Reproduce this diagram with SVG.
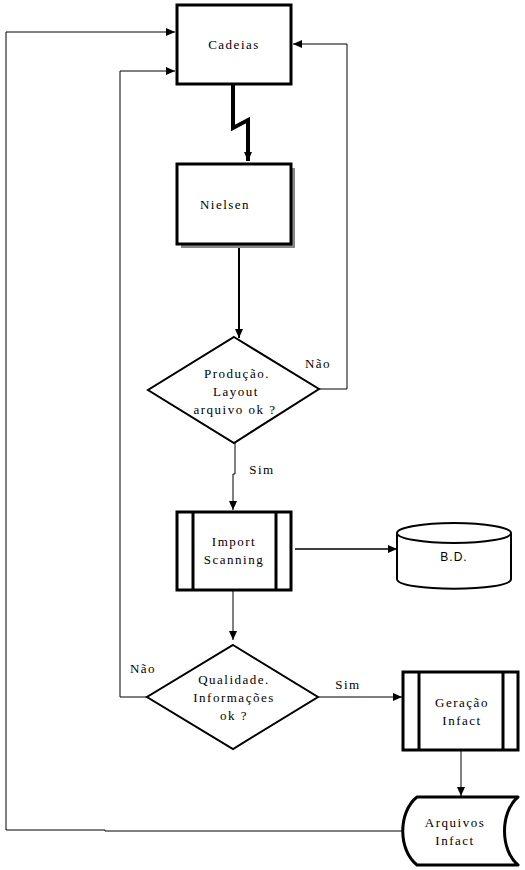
<svg xmlns="http://www.w3.org/2000/svg" width="525" height="870" viewBox="0 0 525 870">
<style>
.box{fill:#fff;stroke:#000;stroke-width:3}
.dia{fill:#fff;stroke:#000;stroke-width:2}
.ln{fill:none;stroke:#000;stroke-width:1}
.t{font-family:"Liberation Serif","DejaVu Serif",serif;font-size:13px;letter-spacing:1.5px;fill:#000;text-anchor:middle}
.s{font-family:"Liberation Sans","DejaVu Sans",sans-serif;font-size:12px;letter-spacing:1px;fill:#000;text-anchor:middle}
</style>
<defs>
<marker id="a" markerUnits="userSpaceOnUse" markerWidth="10" markerHeight="10" refX="9" refY="4" orient="auto">
<path d="M0,0 L9,4 L0,8 z" fill="#000"/>
</marker>
</defs>
<rect width="525" height="870" fill="#fff"/>
<g id="connectors">
<path class="ln" style="stroke-width:4" d="M233,84 V128 L248,120 V161" marker-end="url(#a)"/>
<path class="ln" style="stroke-width:2" d="M239,246 V338" marker-end="url(#a)"/>
<path class="ln" d="M319,389 H347 V44 H293" marker-end="url(#a)"/>
<path class="ln" d="M235,443 V474 H233 V510" marker-end="url(#a)"/>
<path class="ln" style="stroke-width:1.5" d="M295,549 H397" marker-end="url(#a)"/>
<path class="ln" d="M233,591 V640" marker-end="url(#a)"/>
<path class="ln" d="M147,697 H120 V71 H175" marker-end="url(#a)"/>
<path class="ln" d="M319,697 H402" marker-end="url(#a)"/>
<path class="ln" d="M461,751 V796" marker-end="url(#a)"/>
<path class="ln" d="M403,831 H105 V830 H6 V32 H175" marker-end="url(#a)"/>
<text class="t" x="318" y="368">Não</text>
<text class="t" x="262" y="474">Sim</text>
<text class="t" x="143" y="673">Não</text>
<text class="t" x="348" y="689">Sim</text>
</g>
<g id="cadeias">
<rect class="box" x="177" y="5" width="114" height="79"/>
<text class="t" x="234" y="49">Cadeias</text>
</g>
<g id="nielsen">
<rect x="181" y="168" width="114" height="80" fill="#888"/>
<rect class="box" x="177" y="164" width="114" height="80"/>
<text class="t" x="225" y="209">Nielsen</text>
</g>
<g id="producao">
<polygon class="dia" points="234,337 319,389 234,443 148,390"/>
<text class="t" x="237" y="378">Produção.</text>
<text class="t" x="236" y="396">Layout</text>
<text class="t" x="235" y="414">arquivo ok ?</text>
</g>
<g id="import">
<rect class="box" x="177" y="512" width="114" height="78"/>
<line x1="193" y1="512" x2="193" y2="590" stroke="#000" stroke-width="3"/>
<line x1="276" y1="512" x2="276" y2="590" stroke="#000" stroke-width="3"/>
<text class="t" x="234" y="546">Import</text>
<text class="t" x="234" y="564">Scanning</text>
</g>
<g id="bd">
<path d="M397,533 V579 C397,592 511,592 511,579 V533" fill="#fff" stroke="#000" stroke-width="2"/>
<ellipse cx="454" cy="533" rx="57" ry="10" fill="#fff" stroke="#000" stroke-width="2"/>
<text class="s" x="454" y="561">B.D.</text>
</g>
<g id="qualidade">
<polygon class="dia" points="233,645 318,697 233,749 147,697"/>
<text class="t" x="234" y="684">Qualidade.</text>
<text class="t" x="234" y="702">Informações</text>
<text class="t" x="234" y="720">ok ?</text>
</g>
<g id="geracao">
<rect class="box" x="403" y="672" width="115" height="78"/>
<line x1="419" y1="672" x2="419" y2="750" stroke="#000" stroke-width="3"/>
<line x1="503" y1="672" x2="503" y2="750" stroke="#000" stroke-width="3"/>
<text class="t" x="462" y="707">Geração</text>
<text class="t" x="462" y="725">Infact</text>
</g>
<g id="arquivos">
<path d="M417,797 H518 C500,812 500,850 518,865 H417 C398,850 398,812 417,797 Z" fill="#fff" stroke="#000" stroke-width="3" stroke-linejoin="round"/>
<text class="t" x="455" y="827">Arquivos</text>
<text class="t" x="455" y="845">Infact</text>
</g>
</svg>
